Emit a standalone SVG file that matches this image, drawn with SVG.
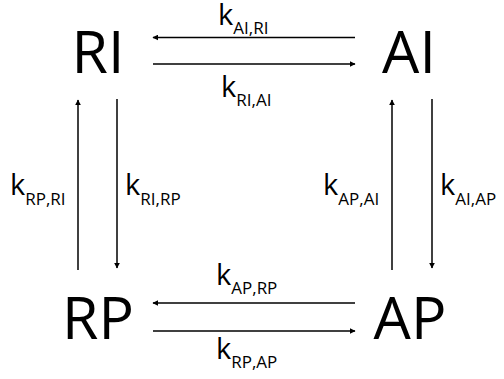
<svg xmlns="http://www.w3.org/2000/svg" width="504" height="379" viewBox="0 0 504 379">
  <style>
    .state { font-family: "Open Sans", "Liberation Sans", sans-serif; font-size: 59px; fill: #000; text-anchor: middle; }
    .rate { font-family: "Open Sans", "Liberation Sans", sans-serif; font-size: 29px; fill: #000; }
    .sub { font-size: 17px; }
    .conn line { stroke: #000; stroke-width: 1.5; fill: none; marker-end: url(#head); }
  </style>
  <defs>
    <marker id="head" viewBox="0 0 10 10" refX="9" refY="5" markerWidth="6" markerHeight="6" markerUnits="userSpaceOnUse" orient="auto">
      <path d="M0,0 L10,5 L0,10 Z" fill="#000"/>
    </marker>
  </defs>

  <rect width="504" height="379" fill="#fff"/>

  <!-- states -->
  <g id="RI"><text class="state" x="98" y="73">RI</text></g>
  <g id="AI"><text class="state" x="409" y="73">AI</text></g>
  <g id="RP"><text class="state" x="98" y="339">RP</text></g>
  <g id="AP"><text class="state" x="410" y="339">AP</text></g>

  <!-- transitions -->
  <g class="conn" id="connectors">
    <line x1="355" y1="37.5" x2="153" y2="37.5"/>
    <line x1="153" y1="64" x2="355" y2="64"/>
    <line x1="355" y1="303" x2="153" y2="303"/>
    <line x1="153" y1="331" x2="355" y2="331"/>
    <line x1="78" y1="270" x2="78" y2="100"/>
    <line x1="117" y1="99" x2="117" y2="268"/>
    <line x1="392" y1="270" x2="392" y2="100"/>
    <line x1="432" y1="99" x2="432" y2="268"/>
  </g>

  <!-- rate constants -->
  <g id="labels">
    <text class="rate" x="218" y="25">k<tspan class="sub" dy="9">AI,RI</tspan></text>
    <text class="rate" x="221" y="97">k<tspan class="sub" dy="9">RI,AI</tspan></text>
    <text class="rate" x="216" y="285">k<tspan class="sub" dy="9">AP,RP</tspan></text>
    <text class="rate" x="216" y="359">k<tspan class="sub" dy="9">RP,AP</tspan></text>
    <text class="rate" x="10" y="195">k<tspan class="sub" dy="10">RP,RI</tspan></text>
    <text class="rate" x="125" y="195">k<tspan class="sub" dy="10">RI,RP</tspan></text>
    <text class="rate" x="323" y="195">k<tspan class="sub" dy="10">AP,AI</tspan></text>
    <text class="rate" x="440" y="195">k<tspan class="sub" dy="10">AI,AP</tspan></text>
  </g>
</svg>
